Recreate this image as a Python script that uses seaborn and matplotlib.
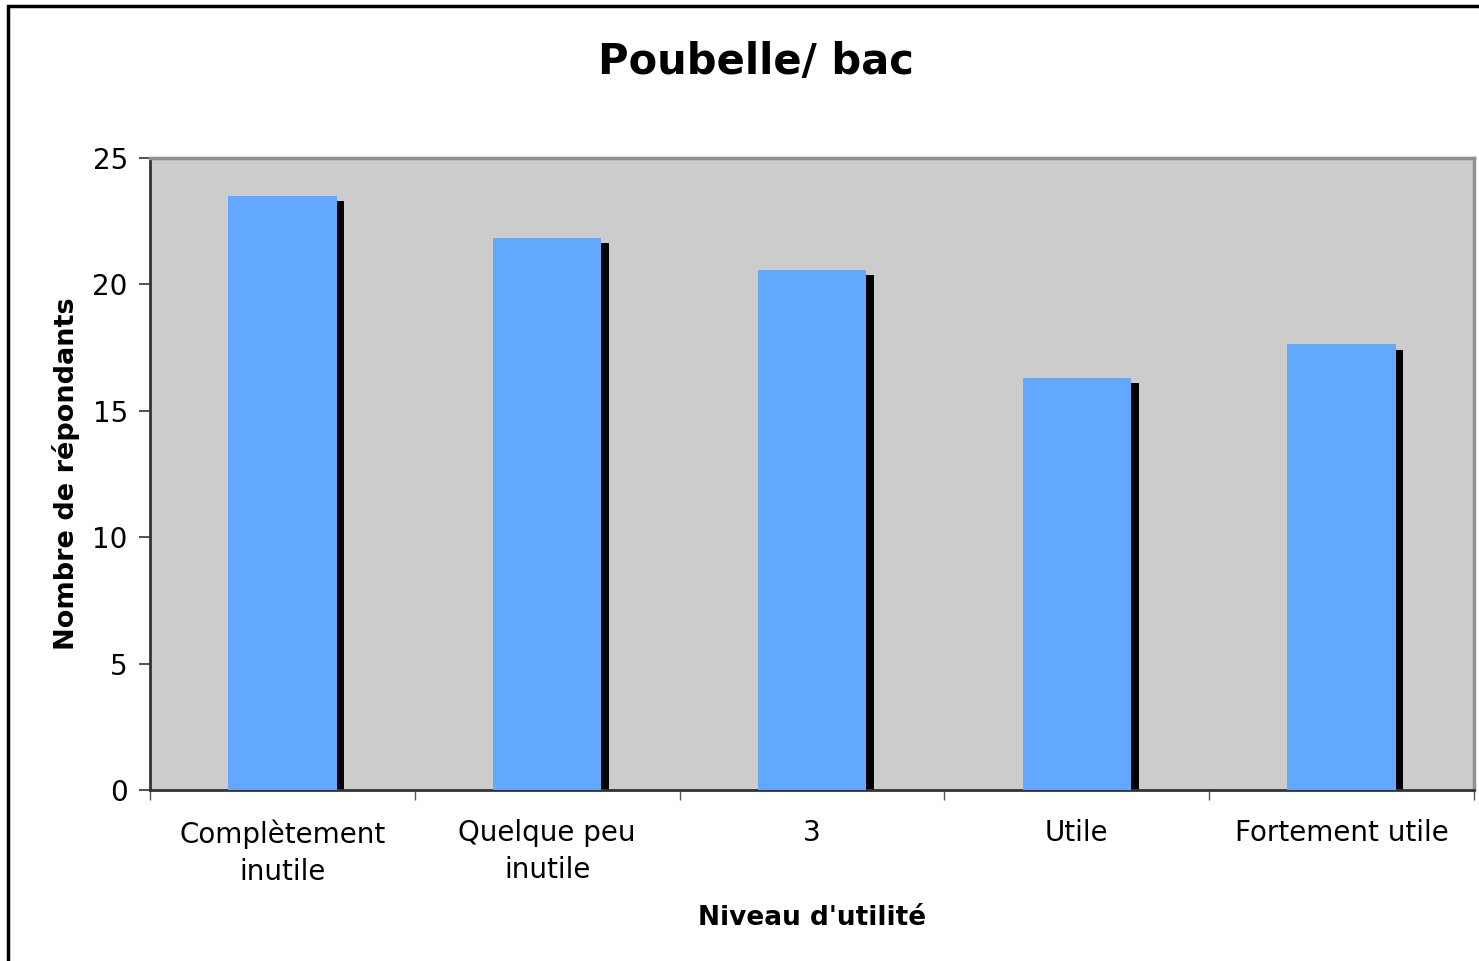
import matplotlib
matplotlib.use("Agg")
import matplotlib.pyplot as plt
import matplotlib.transforms as mtransforms
from matplotlib.patches import Rectangle
import seaborn as sns
import pandas as pd

categories = ["Complètement\ninutile", "Quelque peu\ninutile", "3", "Utile", "Fortement utile"]
values = [23.5, 21.84, 20.57, 16.3, 17.64]
yticks = [0, 5, 10, 15, 20, 25]

df = pd.DataFrame({"cat": categories, "val": values})

sns.set_style("white")
plt.rcParams["font.family"] = ["DejaVu Sans"]
plt.rcParams["text.color"] = "black"
plt.rcParams["xtick.color"] = "black"
plt.rcParams["ytick.color"] = "black"
plt.rcParams["axes.labelcolor"] = "black"

fig = plt.figure(figsize=(14.79, 9.61), dpi=100)
ax = fig.add_axes([150 / 1479, 1 - 790 / 961, (1474 - 150) / 1479, (790 - 158) / 961])
ax.set_facecolor("#cccccc")

# outer chart frame
fig.patches.append(Rectangle((8 / 1479, -0.1), 1.2, 1 - 6 / 961 + 0.1, transform=fig.transFigure,
                             fill=False, edgecolor="black", linewidth=2.5, zorder=0))

width = 0.41
# shadow bars
sns.barplot(data=df, x="cat", y="val", color="black", saturation=1, width=width, ax=ax,
            edgecolor="none", linewidth=0, zorder=2)
shadow_patches = list(ax.patches)
off = mtransforms.offset_copy(ax.transData, fig=fig, x=7.5, y=-5.5, units="dots")
for p in shadow_patches:
    p.set_transform(off)
sns.barplot(data=df, x="cat", y="val", color="#63a8ff", saturation=1, width=width, ax=ax,
            edgecolor="none", linewidth=0, zorder=3)

ax.set_ylim(0, 25)
ax.set_xlim(-0.5, 4.5)
ax.set_yticks(yticks)
ax.set_yticklabels([str(t) for t in yticks], fontsize=20)
ax.set_xticks(range(len(categories)))
ax.set_xticklabels(categories, fontsize=20, linespacing=1.42)
ax.tick_params(axis="x", length=0, pad=21)
ax.tick_params(axis="y", length=8, width=1.2, color="#333333", left=True, pad=8)
# ticks at category boundaries
ax.set_xticks([-0.5, 0.5, 1.5, 2.5, 3.5, 4.5], minor=True)
ax.tick_params(axis="x", which="minor", length=7, width=1, color="#555555", bottom=True)

for s in ["top", "right"]:
    ax.spines[s].set_color("#909090")
    ax.spines[s].set_linewidth(2.5)
for s in ["left", "bottom"]:
    ax.spines[s].set_color("#333333")
    ax.spines[s].set_linewidth(2)

ax.set_xlabel("Niveau d'utilité", fontsize=19, fontweight="bold", labelpad=14)
ax.set_ylabel("Nombre de répondants", fontsize=19.5, fontweight="bold", labelpad=9)
fig.text(756 / 1479, 1 - 62 / 961, "Poubelle/ bac", ha="center", va="center",
         fontsize=30, fontweight="bold")

fig.savefig("out.png", dpi=100)
